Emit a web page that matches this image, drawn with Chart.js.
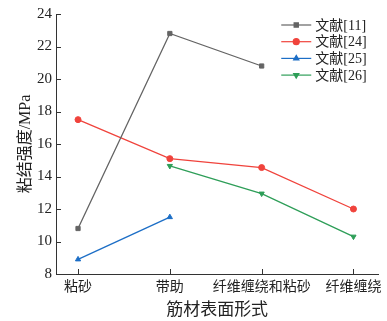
<!DOCTYPE html>
<html>
<head>
<meta charset="utf-8">
<script src="https://cdn.jsdelivr.net/npm/chart.js@4.4.1/dist/chart.umd.min.js"></script>
<style>
  html, body { margin: 0; padding: 0; background: #fff; }
  #wrap { width: 387px; height: 321px; }
</style>
</head>
<body>
<div id="wrap"><canvas id="c" width="387" height="321"></canvas></div>
<script>
// surface types along x
const categories = ['粘砂', '带助', '纤维缠绕和粘砂', '纤维缠绕'];
// bond strength, MPa (null = not tested)
const ref11 = [10.8, 22.8, 20.8, null];
const ref24 = [17.5, 15.1, 14.55, 12.0];
const ref25 = [8.9, 11.5, null, null];
const ref26 = [null, 14.65, 12.95, 10.3];
const yTicks = [8, 10, 12, 14, 16, 18, 20, 22, 24];

const FONT = "'Liberation Serif', 'Noto Sans CJK SC', serif";

function pts(arr) {
  return arr.map((v, i) => ({ x: i, y: v }));
}

const series = [
  { label: '文献[11]', data: ref11, color: '#646464', style: 'rect', rot: 0 },
  { label: '文献[24]', data: ref24, color: '#f0433c', style: 'circle', rot: 0 },
  { label: '文献[25]', data: ref25, color: '#1c6ec6', style: 'triangle', rot: 0 },
  { label: '文献[26]', data: ref26, color: '#2e9e58', style: 'triangle', rot: 180 }
];

// inward tick marks, major + minor
const tickMarks = {
  id: 'tickMarks',
  afterDatasetsDraw(chart) {
    const ctx = chart.ctx;
    const xs = chart.scales.x, ys = chart.scales.y;
    ctx.save();
    ctx.strokeStyle = '#333';
    ctx.lineWidth = 1;
    ctx.beginPath();
    ys.ticks.forEach(t => {
      const y = Math.round(ys.getPixelForValue(t.value)) + 0.5;
      const len = t.value % 2 === 0 ? 5 : 3;
      ctx.moveTo(ys.right, y);
      ctx.lineTo(ys.right + len, y);
    });
    xs.ticks.forEach(t => {
      const x = Math.round(xs.getPixelForValue(t.value)) + 0.5;
      ctx.moveTo(x, xs.top);
      ctx.lineTo(x, xs.top - 5);
    });
    ctx.stroke();
    ctx.restore();
  }
};

// legend with line through marker
const lineLegend = {
  id: 'lineLegend',
  afterDraw(chart) {
    const ctx = chart.ctx;
    const area = chart.chartArea;
    const x0 = area.right - 97, y0 = area.top + 11, gap = 16.7;
    ctx.save();
    series.forEach((s, i) => {
      const y = y0 + i * gap;
      ctx.strokeStyle = s.color;
      ctx.lineWidth = 1.2;
      ctx.beginPath();
      ctx.moveTo(x0, y);
      ctx.lineTo(x0 + 30, y);
      ctx.stroke();
      ctx.fillStyle = s.color;
      Chart.helpers.drawPoint(ctx, { pointStyle: s.style, radius: 3, rotation: s.rot, borderWidth: 1 }, x0 + 15, y);
      ctx.fillStyle = '#222';
      ctx.font = '14px ' + FONT;
      ctx.textBaseline = 'middle';
      ctx.fillText(s.label, x0 + 34, y + 1);
    });
    ctx.restore();
  }
};

new Chart(document.getElementById('c'), {
  type: 'line',
  data: {
    datasets: series.map(s => ({
      label: s.label,
      data: pts(s.data),
      borderColor: s.color,
      backgroundColor: s.color,
      borderWidth: 1.3,
      pointStyle: s.style,
      rotation: s.rot,
      pointRadius: 3,
      pointBorderWidth: 1,
      spanGaps: false,
      tension: 0
    }))
  },
  options: {
    responsive: false,
    animation: false,
    layout: { padding: { left: 0, right: 7, top: 14, bottom: 0 } },
    plugins: { legend: { display: false }, tooltip: { enabled: false } },
    scales: {
      x: {
        type: 'linear',
        min: -0.24,
        max: 3.27,
        afterBuildTicks: s => { s.ticks = categories.map((c, i) => ({ value: i })); },
        afterFit: s => { s.height = 47; },
        grid: { display: true, drawOnChartArea: false, drawTicks: false },
        border: { display: true, color: '#333', width: 1 },
        ticks: {
          padding: 5,
          color: '#222',
          font: { family: FONT, size: 14 },
          maxRotation: 0,
          autoSkip: false,
          callback: v => categories[v]
        },
        title: {
          display: true,
          text: '筋材表面形式',
          color: '#222',
          font: { family: FONT, size: 17 },
          padding: { top: 0, bottom: 0 }
        }
      },
      y: {
        min: yTicks[0],
        max: yTicks[yTicks.length - 1],
        afterFit: s => { s.width = 56; },
        grid: { display: true, drawOnChartArea: false, drawTicks: false },
        border: { display: true, color: '#333', width: 1 },
        ticks: {
          stepSize: 1,
          padding: 4,
          color: '#222',
          font: { family: FONT, size: 15 },
          callback: v => yTicks.includes(v) ? String(v) : ''
        },
        title: {
          display: true,
          text: '粘结强度/MPa',
          color: '#222',
          font: { family: FONT, size: 16 },
          padding: { top: 16, bottom: 0 }
        }
      }
    }
  },
  plugins: [tickMarks, lineLegend]
});
</script>
</body>
</html>
